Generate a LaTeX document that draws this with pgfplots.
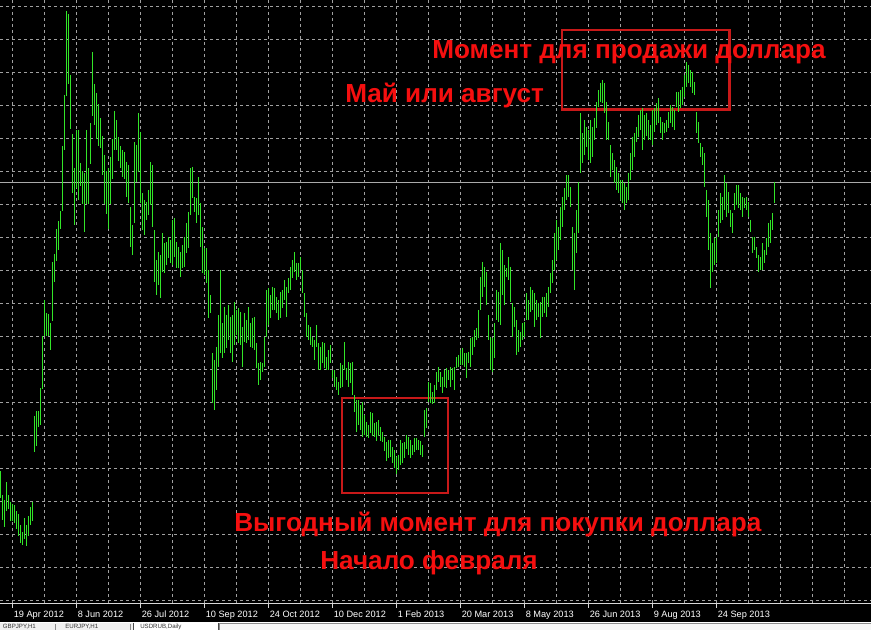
\documentclass[border=0pt]{standalone}
\usepackage{fontspec}
\setmainfont{Liberation Sans}
\usepackage{pgfplots}
\usepackage{pgfplotstable}
\pgfplotsset{compat=1.18}
\definecolor{barg}{RGB}{50,230,40}
\definecolor{gridgray}{RGB}{160,160,160}
\definecolor{pricegray}{RGB}{170,170,170}
\definecolor{axisgray}{RGB}{215,215,215}
\definecolor{textred}{RGB}{245,15,15}
\definecolor{boxred}{RGB}{200,25,25}
\definecolor{tabgray}{RGB}{240,240,240}

% daily bars of USDRUB: x position (px), top (high) and bottom (low) in screen pixels
\pgfplotstableread[row sep=\\]{
x top bot\\
1 471 498\\ 3 495 520\\ 5 500 527\\ 7 482 511\\ 9 495 509\\ 11 502 521\\ 13 504 521\\ 15 505 523\\
17 511 529\\ 19 514 536\\ 21 525 543\\ 23 532 545\\ 25 518 539\\ 27 525 546\\ 29 516 536\\ 31 507 525\\
33 502 521\\ 35 416 452\\ 37 411 446\\ 39 411 427\\ 41 388 425\\ 43 336 389\\ 45 300 336\\ 47 313 336\\
49 314 336\\ 51 323 350\\ 53 262 321\\ 55 254 282\\ 57 229 261\\ 59 221 250\\ 61 211 229\\ 63 146 211\\
65 95 150\\ 67 11 96\\ 69 14 84\\ 71 75 129\\ 73 134 193\\ 75 168 225\\ 77 130 188\\ 79 130 200\\
81 163 186\\ 83 171 204\\ 85 173 232\\ 87 130 204\\ 89 168 204\\ 91 123 164\\ 93 52 116\\ 95 84 125\\
97 93 139\\ 99 104 146\\ 101 118 148\\ 103 136 175\\ 105 155 204\\ 107 171 214\\ 109 168 229\\ 111 157 204\\
113 139 179\\ 115 111 150\\ 117 120 150\\ 119 137 161\\ 121 146 168\\ 123 150 177\\ 125 152 179\\ 127 162 197\\
129 165 203\\ 131 207 247\\ 133 225 255\\ 135 142 223\\ 137 145 182\\ 139 113 172\\ 141 132 203\\ 143 193 230\\
145 200 235\\ 147 202 220\\ 149 190 215\\ 151 162 205\\ 153 165 227\\ 155 230 282\\ 157 260 295\\ 159 252 285\\
161 255 298\\ 163 233 272\\ 165 243 273\\ 167 242 265\\ 169 237 258\\ 171 240 263\\ 173 220 265\\ 175 218 257\\
177 242 268\\ 179 247 268\\ 181 252 277\\ 183 245 268\\ 185 237 267\\ 187 223 253\\ 189 212 248\\ 191 168 215\\
193 167 198\\ 195 197 212\\ 197 198 223\\ 199 177 215\\ 201 203 247\\ 203 227 273\\ 205 248 275\\ 207 248 283\\
209 270 318\\ 211 295 313\\ 213 353 403\\ 215 360 410\\ 217 347 390\\ 219 315 367\\ 221 270 353\\ 223 323 358\\
225 307 353\\ 227 315 348\\ 229 305 340\\ 231 317 353\\ 233 315 362\\ 235 302 345\\ 237 310 335\\ 239 308 343\\
241 312 345\\ 243 327 367\\ 245 313 342\\ 247 320 343\\ 249 307 340\\ 251 323 347\\ 253 318 348\\ 255 317 350\\
257 343 368\\ 259 363 385\\ 261 362 380\\ 263 363 372\\ 265 337 367\\ 267 290 337\\ 269 288 325\\ 271 295 318\\
273 287 310\\ 275 288 310\\ 277 297 313\\ 279 300 320\\ 281 292 318\\ 283 290 308\\ 285 280 300\\ 287 287 317\\
289 278 293\\ 291 267 290\\ 293 260 278\\ 295 252 272\\ 297 263 280\\ 299 263 277\\ 301 257 270\\ 303 270 293\\
305 293 317\\ 307 313 337\\ 309 325 340\\ 311 327 345\\ 313 337 347\\ 315 340 360\\ 317 325 347\\ 319 343 370\\
321 347 370\\ 323 342 363\\ 325 343 368\\ 327 357 370\\ 329 350 370\\ 331 345 363\\ 333 370 378\\ 335 370 387\\
337 377 390\\ 339 382 395\\ 341 363 388\\ 343 365 387\\ 345 342 370\\ 347 368 380\\ 349 362 387\\ 351 363 383\\
353 362 395\\ 355 395 412\\ 357 400 432\\ 359 400 425\\ 361 405 430\\ 363 402 437\\ 365 415 435\\ 367 422 437\\
369 425 438\\ 371 412 433\\ 373 413 436\\ 375 423 437\\ 377 422 441\\ 379 420 436\\ 381 427 441\\ 383 432 442\\
385 437 451\\ 387 442 461\\ 389 440 458\\ 391 440 457\\ 393 447 463\\ 395 450 468\\ 397 457 474\\ 399 455 470\\
401 440 465\\ 403 443 463\\ 405 442 458\\ 407 435 449\\ 409 437 455\\ 411 440 458\\ 413 445 455\\ 415 438 452\\
417 438 450\\ 419 440 450\\ 421 441 455\\ 423 445 457\\ 425 410 437\\ 427 408 428\\ 429 382 402\\ 431 383 403\\
433 392 404\\ 435 385 403\\ 437 372 390\\ 439 367 382\\ 441 372 387\\ 443 377 393\\ 445 370 387\\ 447 368 388\\
449 370 380\\ 451 367 387\\ 453 368 380\\ 455 367 390\\ 457 357 368\\ 459 355 367\\ 461 350 365\\ 463 348 365\\
465 353 367\\ 467 353 378\\ 469 352 363\\ 471 338 367\\ 473 337 355\\ 475 330 347\\ 477 328 340\\ 479 310 338\\
481 277 310\\ 483 262 297\\ 485 267 287\\ 487 272 305\\ 489 315 340\\ 491 337 370\\ 493 338 372\\ 495 323 358\\
497 290 320\\ 499 292 322\\ 501 243 325\\ 503 250 295\\ 505 265 305\\ 507 268 277\\ 509 257 280\\ 511 267 302\\
513 303 337\\ 515 307 327\\ 517 320 355\\ 519 330 352\\ 521 332 347\\ 523 323 340\\ 525 322 337\\ 527 293 320\\
529 300 320\\ 531 287 312\\ 533 290 310\\ 535 293 327\\ 537 300 320\\ 539 303 317\\ 541 302 338\\ 543 297 317\\
545 297 313\\ 547 293 317\\ 549 287 307\\ 551 273 293\\ 553 260 283\\ 555 233 270\\ 557 220 260\\ 559 227 250\\
561 207 240\\ 563 197 227\\ 565 188 210\\ 567 175 200\\ 569 175 197\\ 571 187 207\\ 573 227 270\\ 575 233 290\\
577 210 253\\ 579 182 233\\ 581 113 173\\ 583 133 163\\ 585 120 155\\ 587 127 147\\ 589 130 160\\ 591 120 163\\
593 127 157\\ 595 118 140\\ 597 102 128\\ 599 90 107\\ 601 83 102\\ 603 80 103\\ 605 83 113\\ 607 102 140\\
609 122 140\\ 611 145 177\\ 613 153 170\\ 615 160 183\\ 617 167 190\\ 619 173 193\\ 621 180 200\\ 623 180 203\\
625 183 210\\ 627 187 203\\ 629 173 200\\ 631 153 180\\ 633 137 170\\ 635 133 157\\ 637 127 142\\ 639 115 137\\
641 110 130\\ 643 108 150\\ 645 115 140\\ 647 113 136\\ 649 120 140\\ 651 125 140\\ 653 110 145\\ 655 108 132\\
657 103 125\\ 659 98 123\\ 661 117 133\\ 663 122 140\\ 665 123 133\\ 667 120 132\\ 669 112 128\\ 671 105 123\\
673 107 127\\ 675 110 130\\ 677 92 107\\ 679 92 112\\ 681 90 108\\ 683 87 105\\ 685 75 97\\ 687 62 87\\
689 65 83\\ 691 70 87\\ 693 72 93\\ 695 82 95\\ 697 112 133\\ 699 122 143\\ 701 143 157\\ 703 147 165\\
705 153 187\\ 707 190 217\\ 709 200 250\\ 711 233 288\\ 713 243 272\\ 715 238 265\\ 717 237 263\\ 719 210 237\\
721 193 223\\ 723 197 220\\ 725 175 210\\ 727 183 217\\ 729 192 213\\ 731 210 227\\ 733 213 233\\ 735 193 210\\
737 185 205\\ 739 185 208\\ 741 193 210\\ 743 197 217\\ 745 198 208\\ 747 197 210\\ 749 202 217\\ 751 220 232\\
753 237 253\\ 755 237 250\\ 757 247 258\\ 759 255 272\\ 761 257 270\\ 763 243 270\\ 765 250 263\\ 767 238 255\\
769 223 247\\ 771 220 243\\ 773 213 230\\ 775 182 203\\
}\bars

\begin{document}
\begin{tikzpicture}
% 1 px = 0.75pt ; screen y (px) -> (603 - y)*0.75pt
\path[use as bounding box] (0,-20.25pt) rectangle (653.25pt,452.25pt);
\fill[black] (0,-14.25pt) rectangle (653.25pt,452.25pt);
\fill[tabgray] (0,-20.25pt) rectangle (653.25pt,-14.25pt);
\begin{axis}[
  at={(0,0)}, anchor=south west,
  scale only axis, width=653.25pt, height=452.25pt,
  xmin=0, xmax=871, ymin=0, ymax=603, y dir=reverse,
  clip=false,
  separate axis lines,
  axis x line*=bottom, axis y line*=left,
  x axis line style={draw=axisgray, line width=0.75pt, -},
  y axis line style={draw=none},
  xtick={12.5,76.5,140.5,204.5,268.5,332.5,396.5,460.5,524.5,588.5,652.5,716.5},
  xticklabels={19 Apr 2012,8 Jun 2012,26 Jul 2012,10 Sep 2012,24 Oct 2012,10 Dec 2012,1 Feb 2013,20 Mar 2013,8 May 2013,26 Jun 2013,9 Aug 2013,24 Sep 2013},
  minor xtick={44.5,108.5,172.5,236.5,300.5,364.5,428.5,492.5,556.5,620.5,684.5,748.5,780.5,812.5,844.5},
  ytick={6.5,39.5,72.5,105.5,138.5,171.5,204.5,237.5,270.5,303.5,336.5,369.5,402.5,435.5,468.5,501.5,534.5,567.5,600.5},
  yticklabels={},
  ytick style={draw=none},
  xtick style={draw=axisgray, line width=0.75pt},
  tick align=outside, major tick length=3.5pt, minor tick length=0pt,
  xmajorgrids, xminorgrids, ymajorgrids,
  major grid style={draw=gridgray, line width=0.75pt, dash pattern=on 2.25pt off 2.25pt},
  minor grid style={draw=gridgray, line width=0.75pt, dash pattern=on 2.25pt off 2.25pt},
  extra y ticks={182.5}, extra y tick labels={},
  extra y tick style={grid=major, major grid style={draw=pricegray, solid, line width=0.75pt}, tick style={draw=none}},
  xticklabel style={font=\fontsize{6.9}{8}\selectfont, text=white, anchor=base west, inner sep=0pt, xshift=0.75pt, yshift=-7pt},
]
\draw[boxred, line width=1.6pt] (axis cs:562,30) rectangle (axis cs:729.5,109.5);
\draw[boxred, line width=1.6pt] (axis cs:342,398) rectangle (axis cs:448,493);
\addplot[draw=none, mark=none, forget plot,
  error bars/.cd, y dir=plus, y explicit, error mark=none,
  error bar style={draw=barg, solid, line width=0.78pt}]
  table[x expr=\thisrow{x}-0.5, y=top, y error plus expr=\thisrow{bot}-\thisrow{top}] {\bars};
\node[anchor=base west, inner sep=0pt, text=textred, font=\fontsize{19.6}{22}\selectfont\bfseries] at (axis cs:432,59) {Момент для продажи доллара};
\node[anchor=base west, inner sep=0pt, text=textred, font=\fontsize{19.6}{22}\selectfont\bfseries] at (axis cs:345,103) {Май или август};
\node[anchor=base west, inner sep=0pt, text=textred, font=\fontsize{19.6}{22}\selectfont\bfseries] at (axis cs:234,531) {Выгодный момент для покупки доллара};
\node[anchor=base west, inner sep=0pt, text=textred, font=\fontsize{19.6}{22}\selectfont\bfseries] at (axis cs:320,569) {Начало февраля};
\end{axis}
% tab bar of the terminal window
\draw[white, line width=0.75pt] (0,-14.6pt) -- (653.25pt,-14.6pt);
\fill[white] (99.75pt,-15pt) rectangle (163.5pt,-20.25pt);
\draw[black!70, line width=0.6pt] (99.75pt,-20.25pt) -- (99.75pt,-15pt) (163.5pt,-15pt) -- (163.5pt,-20.25pt);
\fill[white!97!black] (164.25pt,-15.5pt) rectangle (653.25pt,-20.25pt);
\draw[black!45, line width=0.6pt] (164.25pt,-20.25pt) -- (164.25pt,-15.5pt) -- (653.25pt,-15.5pt);
\draw[black!45, line width=0.6pt] (41.25pt,-20.25pt) -- (41.25pt,-16pt) (97.5pt,-20.25pt) -- (97.5pt,-16pt);
\node[anchor=base west, inner sep=0pt, font=\fontsize{4.6}{5}\selectfont, text=black!80] at (2pt,-19.2pt) {GBPJPY,H1};
\node[anchor=base west, inner sep=0pt, font=\fontsize{4.6}{5}\selectfont, text=black!80] at (48.75pt,-19.2pt) {EURJPY,H1};
\node[anchor=base west, inner sep=0pt, font=\fontsize{4.6}{5}\selectfont, text=black!80] at (105pt,-19.2pt) {USDRUB,Daily};
\end{tikzpicture}
\end{document}
